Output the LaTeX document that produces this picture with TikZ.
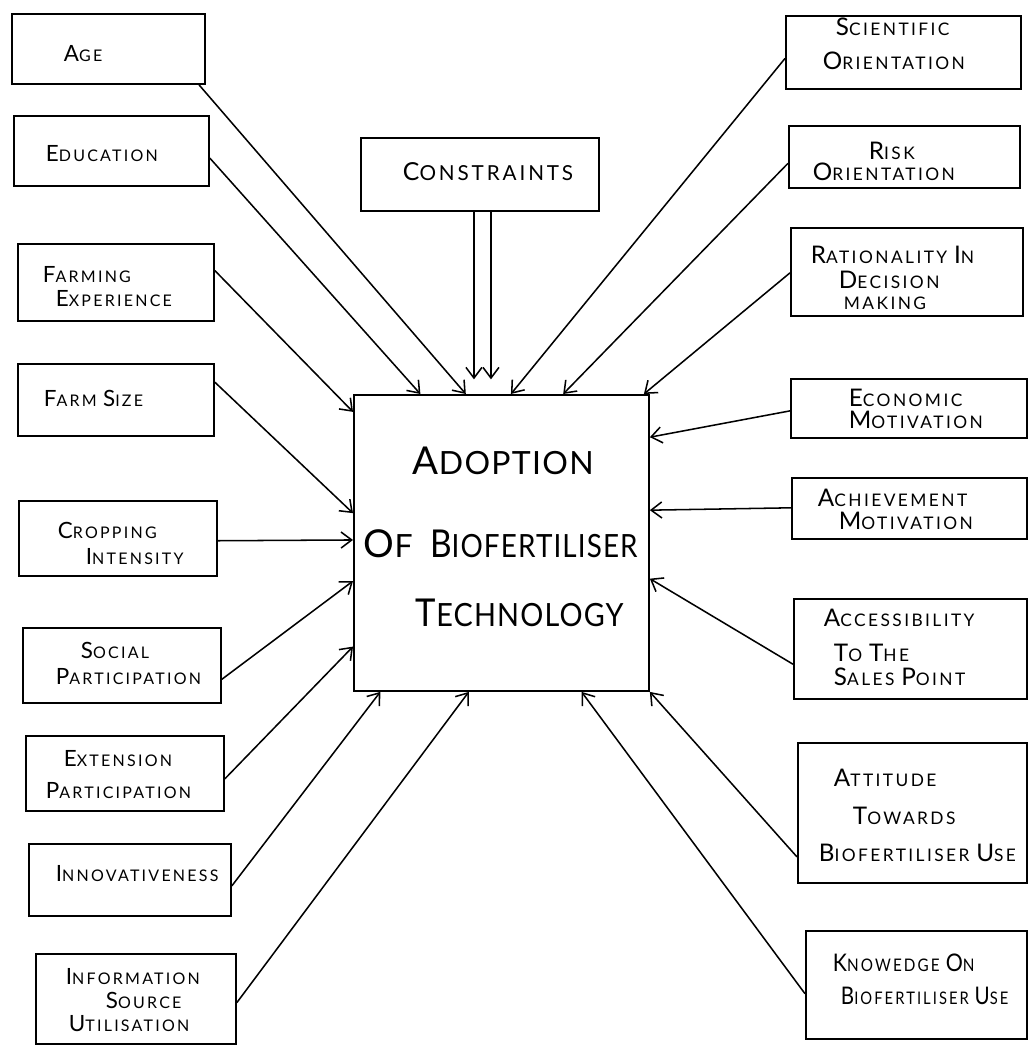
\documentclass[tikz,border=0pt]{standalone}
\usepackage{fontspec}
\usepackage{graphicx}
\setmainfont{Lato}[LetterSpace=14]
\newfontfamily\cf{Lato}[LetterSpace=4]
\usetikzlibrary{arrows.meta,calc}
\newlength\px \setlength\px{0.75pt}
\newcommand\Bg[1]{\scalebox{1.4}{#1}}
\newcommand\Bc[1]{\scalebox{1.2}{#1}}
% text block of exact size: width, height, first baseline (all in px), lines
\newcommand\tbx[4]{\parbox[c][#2\px][t]{#1\px}{\raggedright\vspace*{\dimexpr#3\px-\baselineskip\relax}\rule{0pt}{\baselineskip}#4}}
\begin{document}
\begin{tikzpicture}[x=0.75pt,y=-0.75pt,
  box/.style={draw, line width=1.4pt, inner sep=0pt, anchor=north west},
  lf/.style={font=\fontsize{12}{15}\selectfont},
  rf/.style={font=\fontsize{13}{15}\selectfont},
  arr/.style={line width=1.15pt, -{Straight Barb[length=8pt,width=12pt,line width=1.15pt]}}
]
\useasboundingbox (0,0) rectangle (1028,1046);

% left column
\node[box, lf] (age) at (11,13) {\tbx{193}{70}{48}{\hspace*{52\px}\Bg{A}GE}};
\node[box, lf] (edu) at (13,115) {\tbx{195}{70}{46}{\hspace*{32\px}\Bg{E}DUCATION}};
\node[box, lf] (fexp) at (17,243) {\tbx{196}{77}{39}{\hspace*{25\px}\Bg{F}ARMING\\[4\px]\hspace*{38\px}\Bg{E}XPERIENCE}};
\node[box, lf] (fsize) at (17,363) {\tbx{196}{72}{43}{\hspace*{26\px}\Bg{F}ARM \Bg{S}IZE}};
\node[box, lf] (crop) at (18,500) {\tbx{198}{75}{38}{\hspace*{39\px}\Bg{C}ROPPING\\[6\px]\hspace*{67\px}\Bg{I}NTENSITY}};
\node[box, lf] (soc) at (22,627) {\tbx{198}{75}{31}{\hspace*{58\px}\Bg{S}OCIAL\\[6\px]\hspace*{33\px}\Bg{P}ARTICIPATION}};
\node[box, lf] (ext) at (25,735) {\tbx{198}{75}{31}{\hspace*{38\px}\Bg{E}XTENSION\\[12\px]\hspace*{20\px}\Bg{P}ARTICIPATION}};
\node[box, lf] (inn) at (28,843) {\tbx{202}{72}{38}{\hspace*{27\px}\Bg{I}NNOVATIVENESS}};
\node[box, lf] (info) at (35,953) {\tbx{200}{90}{31}{\hspace*{30\px}\Bg{I}NFORMATION\\[4\px]\hspace*{70\px}\Bg{S}OURCE\\[3\px]\hspace*{33\px}\Bg{U}TILISATION}};

% right column
\node[box, rf] (sci) at (785,15) {\tbx{235}{73}{20}{\hspace*{50\px}\Bg{S}CIENTIFIC\\[14\px]\hspace*{37\px}\Bg{O}RIENTATION}};
\node[box, rf] (risk) at (788,125) {\tbx{231}{62}{34}{\hspace*{80\px}\Bg{R}ISK\\[1\px]\hspace*{24\px}\Bg{O}RIENTATION}};
\node[box, rf] (rat) at (790,227) {\tbx{232}{88}{36}{\hspace*{20\px}\Bg{R}ATIONALITY \Bg{I}N\\[5\px]\hspace*{48\px}\Bg{D}ECISION\\[1\px]\hspace*{53\px}MAKING}};
\node[box, rf] (econ) at (790,378) {\tbx{236}{59}{28}{\hspace*{58\px}\Bg{E}CONOMIC\\[2\px]\hspace*{58\px}\Bg{M}OTIVATION}};
\node[box, rf] (ach) at (791,477) {\tbx{235}{61}{29}{\hspace*{26\px}\Bg{A}CHIEVEMENT\\[3\px]\hspace*{47\px}\Bg{M}OTIVATION}};
\node[box, rf] (acc) at (793,598) {\tbx{233}{100}{28}{\hspace*{30\px}\Bg{A}CCESSIBILITY\\[15\px]\hspace*{40\px}\Bg{T}O \Bg{T}HE\\[4\px]\hspace*{40\px}\Bg{S}ALES \Bg{P}OINT}};
\node[box, rf] (att) at (797,742) {\tbx{229}{140}{44}{\hspace*{36\px}\Bg{A}TTITUDE\\[18\px]\hspace*{55\px}\Bg{T}OWARDS\\[17\px]\hspace*{21\px}\mbox{\Bg{B}IOFERTILISER \Bg{U}SE}}};
\node[box, rf] (know) at (805,930) {\tbx{221}{108}{41}{\hspace*{27\px}\scalebox{0.88}[1]{\Bg{K}NOWEDGE \Bg{O}N}\\[13\px]\hspace*{35\px}\scalebox{0.85}[1]{\Bg{B}IOFERTILISER \Bg{U}SE}}};

% centre
\node[box, font=\fontsize{15.5}{20}\selectfont] (cons) at (360,137) {\tbx{238}{73}{43}{\hspace*{42\px}\Bc{C}ONSTRAINTS}};
\node[box, font=\cf\fontsize{24}{30}\selectfont] (adopt) at (353,394)
  {\tbx{295}{296}{80}{\hspace*{59\px}\Bc{A}DOPTION\\[43\px]\hspace*{10\px}\Bc{O}F\hspace{13pt}\scalebox{0.87}[1]{\Bc{B}IOFERTILISER}\\[29\px]\hspace*{62\px}\scalebox{0.9}[1]{\Bc{T}ECHNOLOGY}}};

% connectors, left
\draw[arr] ($(age.south west)!0.965!(age.south east)$) -- ($(adopt.north west)!0.38!(adopt.north east)$);
\draw[arr] ($(edu.north east)!0.6!(edu.south east)$) -- ($(adopt.north west)!0.227!(adopt.north east)$);
\draw[arr] ($(fexp.north east)!0.35!(fexp.south east)$) -- ($(adopt.north west)!0.06!(adopt.south west)$);
\draw[arr] ($(fsize.north east)!0.26!(fsize.south east)$) -- ($(adopt.north west)!0.4!(adopt.south west)$);
\draw[arr] ($(crop.north east)!0.53!(crop.south east)$) -- ($(adopt.north west)!0.49!(adopt.south west)$);
\draw[arr] ($(soc.north east)!0.68!(soc.south east)$) -- ($(adopt.north west)!0.628!(adopt.south west)$);
\draw[arr] ($(ext.north east)!0.57!(ext.south east)$) -- ($(adopt.north west)!0.848!(adopt.south west)$);
\draw[arr] ($(inn.north east)!0.58!(inn.south east)$) -- ($(adopt.south west)!0.092!(adopt.south east)$);
\draw[arr] ($(info.north east)!0.54!(info.south east)$) -- ($(adopt.south west)!0.39!(adopt.south east)$);

% connectors, right
\draw[arr] ($(sci.north west)!0.58!(sci.south west)$) -- ($(adopt.north west)!0.532!(adopt.north east)$);
\draw[arr] ($(risk.north west)!0.6!(risk.south west)$) -- ($(adopt.north west)!0.708!(adopt.north east)$);
\draw[arr] ($(rat.north west)!0.51!(rat.south west)$) -- ($(adopt.north west)!0.98!(adopt.north east)$);
\draw[arr] ($(econ.north west)!0.54!(econ.south west)$) -- ($(adopt.north east)!0.145!(adopt.south east)$);
\draw[arr] ($(ach.north west)!0.49!(ach.south west)$) -- ($(adopt.north east)!0.39!(adopt.south east)$);
\draw[arr] ($(acc.north west)!0.65!(acc.south west)$) -- ($(adopt.north east)!0.62!(adopt.south east)$);
\draw[arr] ($(att.north west)!0.81!(att.south west)$) -- (adopt.south east);
\draw[arr] ($(know.north west)!0.58!(know.south west)$) -- ($(adopt.south west)!0.77!(adopt.south east)$);

% constraints double arrow
\coordinate (c1) at ($(cons.south west)!0.475!(cons.south east)$);
\coordinate (c2) at ($(cons.south west)!0.546!(cons.south east)$);
\draw[arr, shorten >=11pt] (c1) -- (c1 |- adopt.north);
\draw[arr, shorten >=11pt] (c2) -- (c2 |- adopt.north);
\end{tikzpicture}
\end{document}
